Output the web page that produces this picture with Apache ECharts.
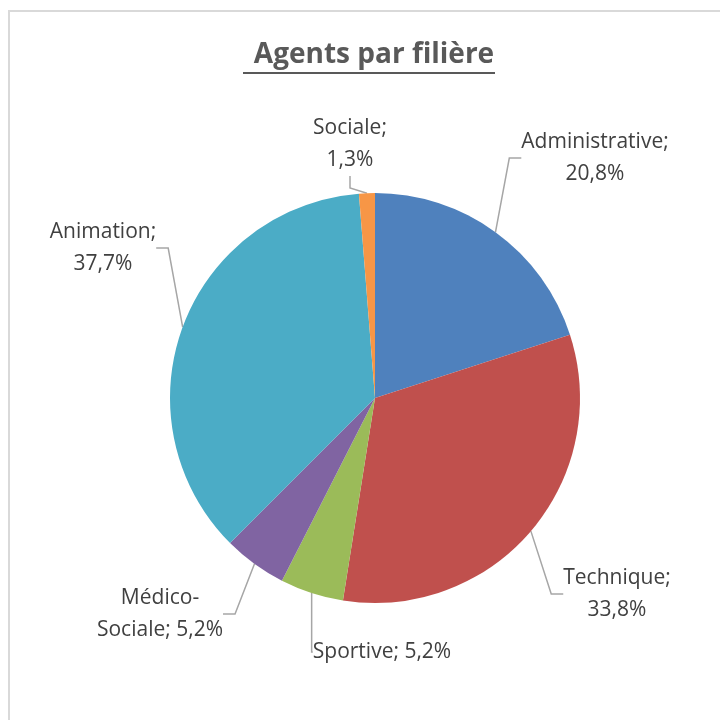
<!DOCTYPE html>
<html>
<head>
<meta charset="utf-8">
<script src="https://cdn.jsdelivr.net/npm/echarts@6/dist/echarts.min.js"></script>
<style>
  html, body { margin: 0; padding: 0; background: #fff; }
  #frame { position: absolute; left: 8px; top: 10px; width: 740px; height: 740px;
           border-left: 2px solid #d9d9d9; border-top: 2px solid #d9d9d9; }
  #container { position: absolute; left: 0; top: 0; width: 720px; height: 720px; }
</style>
</head>
<body>
<div id="frame"></div>
<div id="container"></div>
<script>
var titleText = 'Agents par filière';
var categories = ['Administrative', 'Technique', 'Sportive', 'Médico-Sociale', 'Animation', 'Sociale'];
var percents = [20.8, 33.8, 5.2, 5.2, 37.7, 1.3];
var colors = ['#4F81BD', '#C0504D', '#9BBB59', '#8064A2', '#4BACC6', '#F79646'];
// libellés comme dans Excel (retour à la ligne)
var labelTexts = ['Administrative;\n20,8%', 'Technique;\n33,8%', 'Sportive; 5,2%',
                  'Médico-\nSociale; 5,2%', 'Animation;\n37,7%', 'Sociale;\n1,3%'];
// centre des étiquettes, placées à la main comme dans Excel
var labelSpots = [[595, 158], [617, 594], [382, 652], [160, 614], [103, 248], [350, 144]];

var dom = document.getElementById('container');
var myChart = echarts.init(dom);
var data = categories.map(function (c, i) {
  return { name: c, value: percents[i], itemStyle: { color: colors[i] } };
});
var option = {
  animation: false,
  title: {
    text: titleText,
    left: 369,
    textAlign: 'center',
    top: 36,
    textStyle: { fontFamily: 'Open Sans', fontSize: 28, fontWeight: 'bold', color: '#595959' }
  },
  graphic: [{
    type: 'rect',
    shape: { x: 243, y: 72, width: 252, height: 2 },
    style: { fill: '#595959' }
  }],
  series: [{
    name: 'Agents',
    type: 'pie',
    center: [375, 398],
    radius: 205,
    startAngle: 90,
    clockwise: true,
    data: data,
    label: {
      position: 'outside',
      formatter: function (p) { return labelTexts[p.dataIndex]; },
      fontFamily: 'Open Sans',
      fontSize: 21,
      lineHeight: 32,
      color: '#404040',
      align: 'center'
    },
    labelLine: {
      length: 30,
      length2: 12,
      lineStyle: { color: '#A6A6A6', width: 1.5 }
    },
    labelLayout: function (p) {
      var s = labelSpots[p.dataIndex];
      return { x: s[0], y: s[1], align: 'center', verticalAlign: 'middle' };
    }
  }]
};
myChart.setOption(option);
</script>
</body>
</html>
